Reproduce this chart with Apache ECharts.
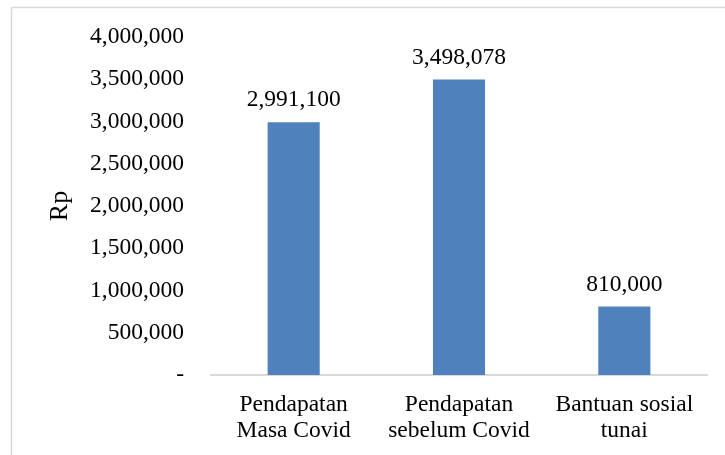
<!DOCTYPE html>
<html>
<head>
<meta charset="utf-8">
<script src="https://cdn.jsdelivr.net/npm/echarts@6/dist/echarts.min.js"></script>
<style>
  html, body { margin: 0; padding: 0; background: #fff; }
  #chart { width: 725px; height: 455px; }
</style>
</head>
<body>
<div id="chart"></div>
<script>
// Income comparison (Rp)
const categories = ['Pendapatan\nMasa Covid', 'Pendapatan\nsebelum Covid', 'Bantuan sosial\ntunai'];
const values = [2991100, 3498078, 810000];
const yTicks = { min: 0, max: 4000000, interval: 500000 };
const yAxisName = 'Rp';

const fmt = v => v === 0 ? '-' : v.toLocaleString('en-US');
const serif = '"Liberation Serif", "Times New Roman", serif';

const chart = echarts.init(document.getElementById('chart'));
chart.setOption({
  animation: false,
  backgroundColor: '#fff',
  graphic: [{
    type: 'rect',
    shape: { x: 11.5, y: 7.5, width: 760, height: 500 },
    style: { fill: 'none', stroke: '#d9d9d9', lineWidth: 1.5 },
    silent: true
  }],
  grid: { left: 211, right: 18, top: 37, bottom: 80 },
  xAxis: {
    type: 'category',
    data: categories,
    axisLine: { lineStyle: { color: '#d9d9d9', width: 2 } },
    axisTick: { show: false },
    axisLabel: {
      fontFamily: serif, fontSize: 23.5, color: '#000',
      lineHeight: 26, margin: 17, interval: 0
    }
  },
  yAxis: {
    type: 'value',
    min: yTicks.min, max: yTicks.max, interval: yTicks.interval,
    name: yAxisName,
    nameLocation: 'middle',
    nameRotate: 90,
    nameGap: 138,
    nameTextStyle: { fontFamily: serif, fontSize: 26, color: '#000' },
    axisLine: { show: false },
    axisTick: { show: false },
    splitLine: { show: false },
    axisLabel: {
      fontFamily: serif, fontSize: 23.5, color: '#000', margin: 27,
      formatter: fmt
    }
  },
  series: [{
    type: 'bar',
    data: values,
    barWidth: '31.5%',
    itemStyle: { color: '#4f81bd' },
    label: {
      show: true, position: 'top', distance: 10,
      fontFamily: serif, fontSize: 23.5, color: '#000',
      formatter: p => fmt(p.value)
    }
  }]
});
</script>
</body>
</html>
